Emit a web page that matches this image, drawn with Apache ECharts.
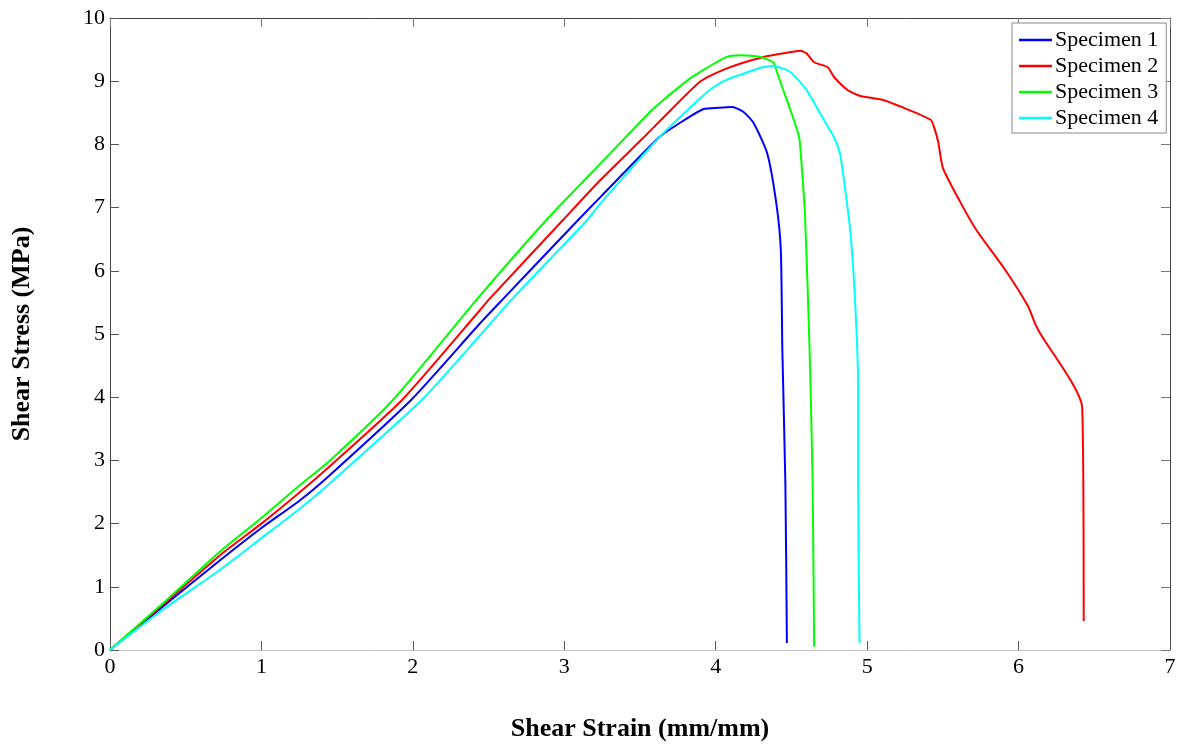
<!DOCTYPE html>
<html>
<head>
<meta charset="utf-8">
<script src="https://cdn.jsdelivr.net/npm/echarts@6/dist/echarts.min.js"></script>
<style>
html,body{margin:0;padding:0;background:#fff;overflow:hidden;}
#chart{width:1178px;height:745px;}
</style>
</head>
<body>
<div id="chart"></div>
<script>
const seriesNames = ['Specimen 1', 'Specimen 2', 'Specimen 3', 'Specimen 4'];
const seriesColors = ['#0000ff', '#ff0000', '#00ff00', '#00ffff'];
const xTicks = [0, 1, 2, 3, 4, 5, 6, 7];
const yTicks = [0, 1, 2, 3, 4, 5, 6, 7, 8, 9, 10];

const specimen1 = [
  [0,0],[0.35,0.69],[0.727,1.42],[1.0,1.93],[1.255,2.37],[1.453,2.77],[1.99,3.96],
  [2.444,5.17],[2.59,5.54],[3.09,6.80],[3.24,7.17],[3.63,8.12],[3.79,8.38],[3.92,8.56],
  [4.02,8.58],[4.11,8.59],[4.18,8.52],[4.25,8.34],[4.34,7.86],[4.40,7.07],[4.43,6.33],
  [4.44,4.75],[4.46,2.64],[4.47,0.11]
];
const specimen2 = [
  [0,0],[0.35,0.72],[0.727,1.50],[1.0,2.0],[1.255,2.50],[1.453,2.91],[1.93,3.96],
  [2.444,5.38],[2.50,5.54],[2.99,6.80],[3.24,7.44],[3.52,8.10],[3.64,8.39],[3.90,9.0],
  [4.07,9.2],[4.31,9.38],[4.52,9.47],[4.56,9.48],[4.60,9.44],[4.65,9.30],[4.74,9.22],
  [4.78,9.07],[4.87,8.86],[4.95,8.77],[5.11,8.70],[5.22,8.60],[5.42,8.39],[5.44,8.29],
  [5.47,8.03],[5.50,7.63],[5.61,7.11],[5.72,6.65],[5.91,6.02],[6.06,5.45],[6.11,5.16],
  [6.14,5.02],[6.42,3.84],[6.43,0.46]
];
const specimen3 = [
  [0,0],[0.35,0.74],[0.727,1.56],[1.0,2.09],[1.255,2.61],[1.453,3.0],[1.87,3.96],
  [2.42,5.54],[2.88,6.80],[3.24,7.7],[3.516,8.39],[3.58,8.55],[3.79,8.97],[3.90,9.15],
  [4.07,9.38],[4.16,9.41],[4.30,9.38],[4.38,9.30],[4.40,9.18],[4.44,8.9],[4.51,8.43],
  [4.55,8.12],[4.56,7.91],[4.59,6.86],[4.62,4.75],[4.64,2.64],[4.65,0.05]
];
const specimen4 = [
  [0,0],[0.35,0.64],[0.727,1.27],[1.0,1.77],[1.255,2.24],[1.453,2.64],[2.06,3.96],
  [2.444,4.98],[2.65,5.54],[3.15,6.80],[3.24,7.07],[3.63,8.12],[3.79,8.49],[3.96,8.86],
  [4.07,9.02],[4.16,9.10],[4.31,9.22],[4.38,9.24],[4.49,9.15],[4.60,8.86],[4.69,8.49],
  [4.78,8.12],[4.82,7.86],[4.85,7.38],[4.89,6.6],[4.92,5.54],[4.94,4.22],[4.94,2.64],
  [4.95,0.11]
];
const allData = [specimen1, specimen2, specimen3, specimen4];

const FONT = '"Liberation Serif", "Times New Roman", serif';
const chart = echarts.init(document.getElementById('chart'), null, {renderer: 'canvas'});

const baseX = {
  type: 'value', min: xTicks[0], max: xTicks[xTicks.length - 1], interval: 1,
  splitLine: {show: false}
};
const baseY = {
  type: 'value', min: yTicks[0], max: yTicks[yTicks.length - 1], interval: 1,
  splitLine: {show: false}
};

chart.setOption({
  animation: false,
  backgroundColor: '#ffffff',
  grid: {left: 110, right: 8, top: 18, bottom: 95, containLabel: false, outerBoundsMode: 'none'},
  legend: {
    orient: 'vertical',
    left: 1012, top: 23,
    data: seriesNames,
    icon: 'rect',
    itemWidth: 33, itemHeight: 2.5,
    itemGap: 4,
    padding: [6, 8, 4, 7],
    borderColor: '#8a8a8a', borderWidth: 1,
    backgroundColor: '#ffffff',
    textStyle: {fontFamily: FONT, fontSize: 22, color: '#000', lineHeight: 22, padding: [0, 0, 0, -2]}
  },
  xAxis: [
    Object.assign({}, baseX, {
      position: 'bottom',
      name: 'Shear Strain (mm/mm)', nameLocation: 'middle', nameGap: 66,
      nameTextStyle: {fontFamily: FONT, fontSize: 26, fontWeight: 'bold', color: '#000'},
      axisLine: {show: true, onZero: false, lineStyle: {color: '#c4c4c4', width: 1}},
      axisTick: {show: true, inside: true, length: 9, lineStyle: {color: '#555'}},
      axisLabel: {fontFamily: FONT, fontSize: 22, color: '#000', margin: 6,
        formatter: v => String(v)}
    }),
    Object.assign({}, baseX, {
      position: 'top',
      axisLine: {show: true, onZero: false, lineStyle: {color: '#444', width: 1}},
      axisTick: {show: true, inside: true, length: 9, lineStyle: {color: '#777'}},
      axisLabel: {show: false}
    })
  ],
  yAxis: [
    Object.assign({}, baseY, {
      position: 'left',
      name: 'Shear Stress (MPa)', nameLocation: 'middle', nameGap: 75, nameRotate: 90,
      nameTextStyle: {fontFamily: FONT, fontSize: 26, fontWeight: 'bold', color: '#000'},
      axisLine: {show: true, onZero: false, lineStyle: {color: '#444', width: 1}},
      axisTick: {show: true, inside: true, length: 9, lineStyle: {color: '#555'}},
      axisLabel: {fontFamily: FONT, fontSize: 22, color: '#000', margin: 5,
        formatter: v => String(v)}
    }),
    Object.assign({}, baseY, {
      position: 'right',
      axisLine: {show: true, onZero: false, lineStyle: {color: '#444', width: 1}},
      axisTick: {show: true, inside: true, length: 9, lineStyle: {color: '#777'}},
      axisLabel: {show: false}
    })
  ],
  series: seriesNames.map((name, i) => ({
    name: name,
    type: 'line',
    xAxisIndex: 0, yAxisIndex: 0,
    data: allData[i],
    showSymbol: false,
    symbol: 'none',
    smooth: 0.2,
    color: seriesColors[i],
    lineStyle: {color: seriesColors[i], width: 2},
    z: 2 + i
  }))
});
</script>
</body>
</html>
